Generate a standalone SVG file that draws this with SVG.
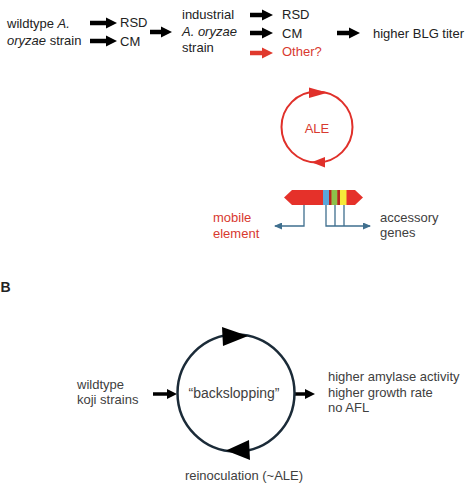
<svg xmlns="http://www.w3.org/2000/svg" width="467" height="486" viewBox="0 0 467 486">
<style>
text{font-family:"Liberation Sans",Arial,sans-serif;font-size:13px;fill:#222}
.red{fill:#d8392f}
.gray{fill:#404040}
.it{font-style:italic}
.thick{stroke:#000;stroke-width:4.5;fill:none}
.thickr{stroke:#e0392d;stroke-width:4.5;fill:none}
.mid{stroke:#000;stroke-width:3.5;fill:none}
.gl{stroke:#3f6f8e;stroke-width:1.3;fill:none}
</style>
<defs>
<marker id="ah" markerUnits="userSpaceOnUse" markerWidth="11" markerHeight="12" refX="2" refY="6" orient="auto"><path d="M0,0.5 L11,6 L0,11.5 z" fill="#000"/></marker>
<marker id="ahr" markerUnits="userSpaceOnUse" markerWidth="11" markerHeight="12" refX="2" refY="6" orient="auto"><path d="M0,0.5 L11,6 L0,11.5 z" fill="#e0392d"/></marker>
<marker id="ahm" markerUnits="userSpaceOnUse" markerWidth="10" markerHeight="11" refX="2" refY="5.5" orient="auto"><path d="M0,0.5 L10,5.5 L0,10.5 z" fill="#000"/></marker>
<marker id="ahb" markerUnits="userSpaceOnUse" markerWidth="8" markerHeight="7" refX="7" refY="3.5" orient="auto"><path d="M0,0 L8,3.5 L0,7 z" fill="#3f6f8e"/></marker>
</defs>

<g id="connectors">
<line class="thick" x1="90" y1="23" x2="108" y2="23" marker-end="url(#ah)"/>
<line class="thick" x1="90" y1="41" x2="108" y2="41" marker-end="url(#ah)"/>
<line class="thick" x1="150" y1="32" x2="163" y2="32" marker-end="url(#ah)"/>
<line class="thick" x1="250" y1="15" x2="264" y2="15" marker-end="url(#ah)"/>
<line class="thick" x1="250" y1="33" x2="264" y2="33" marker-end="url(#ah)"/>
<line class="thickr" x1="250" y1="53" x2="264" y2="53" marker-end="url(#ahr)"/>
<line class="thick" x1="337" y1="33" x2="351" y2="33" marker-end="url(#ah)"/>
<line class="mid" x1="153" y1="394" x2="169" y2="394" marker-end="url(#ahm)"/>
<line class="mid" x1="295" y1="394" x2="307" y2="394" marker-end="url(#ahm)"/>
</g>

<g id="panelA-start">
<text x="7" y="28">wildtype <tspan class="it">A.</tspan></text>
<text x="7" y="45"><tspan class="it">oryzae</tspan> strain</text>
</g>
<g id="panelA-rsd1"><text x="120" y="27">RSD</text></g>
<g id="panelA-cm1"><text x="120" y="45.5">CM</text></g>
<g id="panelA-industrial">
<text x="182" y="19">industrial</text>
<text x="182" y="36"><tspan class="it">A. oryzae</tspan></text>
<text x="182" y="52">strain</text>
</g>
<g id="panelA-rsd2"><text x="282" y="19">RSD</text></g>
<g id="panelA-cm2"><text x="282" y="38">CM</text></g>
<g id="panelA-other"><text x="282" y="56" class="red">Other?</text></g>
<g id="panelA-titer"><text x="373" y="37.5">higher BLG titer</text></g>

<g id="ale-cycle">
<circle cx="317" cy="127" r="35.5" fill="none" stroke="#e0302a" stroke-width="2"/>
<polygon points="309,87.5 327.5,92.8 309,98" fill="#e0302a"/>
<polygon points="311.5,162.2 325,157 325,167.5" fill="#e0302a"/>
<text x="317" y="133" text-anchor="middle" class="red">ALE</text>
</g>

<g id="gene-bar">
<polygon points="284,197.5 292,190 355,190 363,197.5 355,205 292,205" fill="#e5312a"/>
<rect x="323" y="190" width="6" height="15" fill="#5aa7dc"/>
<rect x="329" y="190" width="2.5" height="15" fill="#b52420"/>
<rect x="331.5" y="190" width="6" height="15" fill="#8dc04a"/>
<rect x="337.5" y="190" width="2.5" height="15" fill="#b52420"/>
<rect x="340" y="190" width="6.5" height="15" fill="#f6ea3a"/>
<path class="gl" d="M304,205 V226 H275" marker-end="url(#ahb)"/>
<path class="gl" d="M326,205 V226 H370" marker-end="url(#ahb)"/>
<path class="gl" d="M335,205 V226 M344,205 V226"/>
</g>
<g id="mobile-element">
<text x="213" y="222" class="red">mobile</text>
<text x="213" y="238" class="red">element</text>
</g>
<g id="accessory-genes">
<text x="380" y="222" class="gray">accessory</text>
<text x="380" y="237" class="gray">genes</text>
</g>

<g id="label-B"><text x="0.5" y="292" style="font-weight:bold;font-size:14px">B</text></g>

<g id="backslopping-cycle">
<circle cx="236" cy="393" r="58.5" fill="none" stroke="#1b2b38" stroke-width="2.5"/>
<polygon points="222,327 248,336 223,346" fill="#000"/>
<polygon points="226,450.5 249,440 250,460" fill="#000"/>
<text x="234" y="398" text-anchor="middle" style="font-size:14px" class="gray">“backslopping”</text>
</g>
<g id="wildtype-koji">
<text x="77" y="389" class="gray">wildtype</text>
<text x="77" y="404" class="gray">koji strains</text>
</g>
<g id="outcomes">
<text x="328" y="381" class="gray">higher amylase activity</text>
<text x="328" y="397" class="gray">higher growth rate</text>
<text x="328" y="412" class="gray">no AFL</text>
</g>
<g id="reinoculation"><text x="244" y="480" text-anchor="middle" class="gray">reinoculation (~ALE)</text></g>
</svg>
